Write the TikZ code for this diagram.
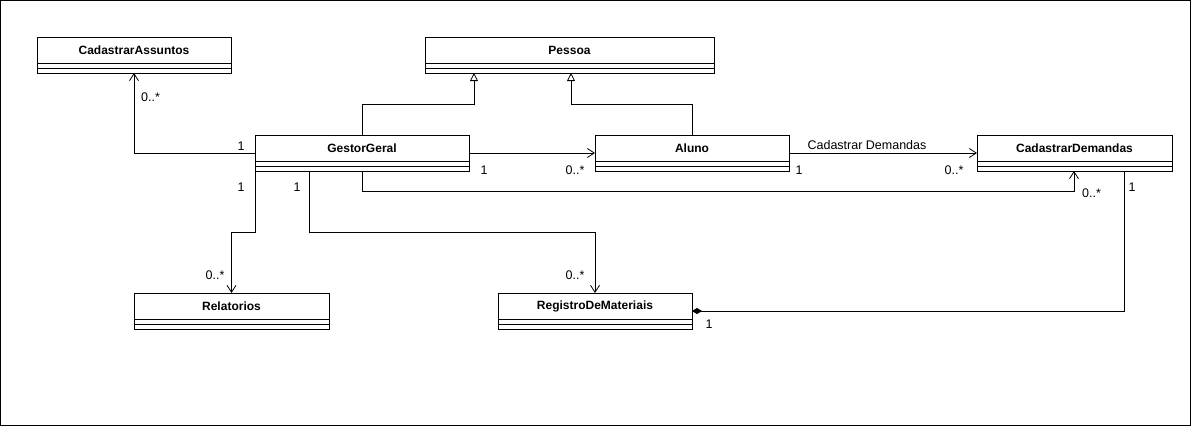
\documentclass[tikz,border=0pt]{standalone}
\usepackage{fontspec}
\setmainfont{Liberation Sans}
\usetikzlibrary{arrows.meta,calc}
\tikzset{
 clsbox/.style={draw, line width=1pt, minimum height=36pt, inner sep=0pt, outer sep=0pt, anchor=north west, fill=white},
 clsname/.style={font=\bfseries\fontsize{12}{14}\selectfont, inner sep=0pt},
 lbl/.style={font=\fontsize{12.5}{14}\selectfont, inner sep=0pt},
 assoc/.style={draw, line width=0.8pt, -{Straight Barb[length=7pt,width=9pt]}},
 gen/.style={draw, line width=0.8pt, -{Triangle[open,length=8pt,width=8pt,fill=white]}},
 comp/.style={draw, line width=0.8pt, -{Diamond[length=10pt,width=6pt]}},
}
\newcommand\umlclass[5]{%
  \node[clsbox, minimum width=#4pt] (#1) at (#2,#3) {};
  \node[clsname] (#1-name) at ($(#1.north)+(0,13.5)$) {#5};
  \draw[line width=1pt] ([yshift=-26pt]#1.north west) -- ([yshift=-26pt]#1.north east);
  \draw[line width=1pt] ([yshift=-31pt]#1.north west) -- ([yshift=-31pt]#1.north east);
}
\begin{document}
\begin{tikzpicture}[x=1pt,y=-1pt]
\useasboundingbox (0,0) rectangle (1191,426);
\draw[line width=1pt] (0.5,0.5) rectangle (1190.5,425.5);

\umlclass{ca}{37}{37}{194}{CadastrarAssuntos}
\umlclass{pe}{425}{37}{289}{Pessoa}
\umlclass{gg}{255}{135}{214}{GestorGeral}
\umlclass{al}{595}{135}{194}{Aluno}
\umlclass{cd}{977}{135}{195}{CadastrarDemandas}
\umlclass{re}{134}{293}{195}{Relatorios}
\umlclass{rm}{498}{293}{194}{RegistroDeMateriais}

% GestorGeral -> CadastrarAssuntos
\draw[assoc] (gg.west) -| (ca.south);
\node[lbl, anchor=west] (l1) at (141,97) {0..*};
\node[lbl] (l2) at (241,146) {1};

% generalizations
\coordinate (g1) at (474,104);
\coordinate (g2) at (571,104);
\draw[gen] (gg.north) |- (g1) -- (g1 |- pe.south);
\draw[gen] (al.north) |- (g2) -- (g2 |- pe.south);

% GestorGeral -> Aluno
\draw[assoc] (gg.east) -- (al.west);
\node[lbl] (l3) at (484,170) {1};
\node[lbl] (l4) at (575,170) {0..*};

% Aluno -> CadastrarDemandas
\draw[assoc] (al.east) -- (cd.west);
\node[lbl] (l5) at (867,145) {Cadastrar Demandas};
\node[lbl] (l6) at (799,170) {1};
\node[lbl] (l7) at (954,170) {0..*};

% GestorGeral -> CadastrarDemandas
\coordinate (c3) at (1074,191);
\draw[assoc] (gg.south) |- (c3) -- (c3 |- cd.south);
\node[lbl, anchor=west] (l8) at (1082,193) {0..*};

% GestorGeral -> Relatorios
\coordinate (c4) at (231.5,232);
\draw[assoc] (gg.south west) |- (c4) -- (re.north);
\node[lbl] (l9) at (241,187) {1};
\node[lbl] (l10) at (215,275) {0..*};

% GestorGeral -> RegistroDeMateriais
\coordinate (c6) at (309,232);
\draw[assoc] (c6 |- gg.south) -- (c6) -| (rm.north);
\node[lbl] (l11) at (297,187) {1};
\node[lbl] (l12) at (575,275) {0..*};

% CadastrarDemandas composition RegistroDeMateriais
\coordinate (c5) at (1124,311);
\draw[comp] (c5 |- cd.south) -- (c5) -- (rm.east);
\node[lbl] (l13) at (1132,187) {1};
\node[lbl] (l14) at (709,324) {1};
\end{tikzpicture}
\end{document}
